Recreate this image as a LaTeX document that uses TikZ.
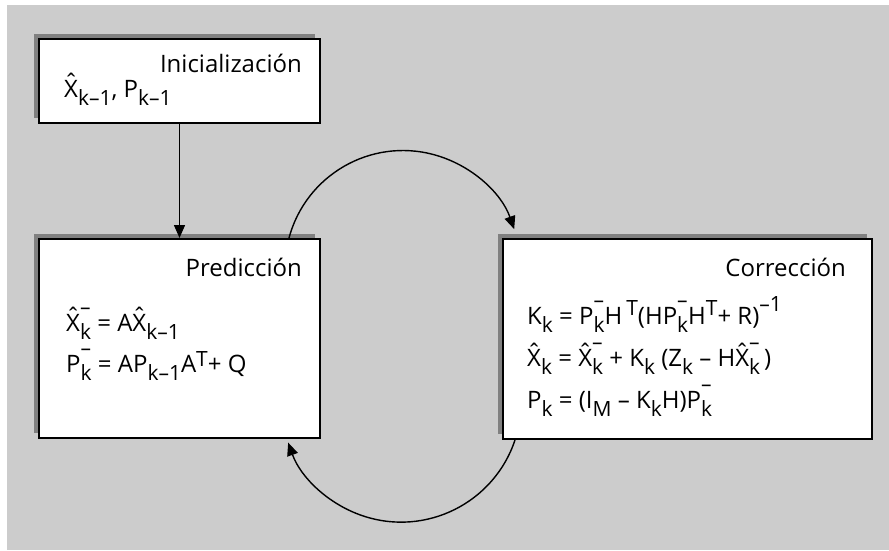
\documentclass[tikz,border=0pt]{standalone}
\usepackage{fontspec}
\setmainfont{Open Sans}
\usetikzlibrary{arrows.meta}
\definecolor{bgc}{HTML}{CCCCCC}
\definecolor{shc}{HTML}{808080}
\newcommand\subsz{\fontsize{21}{21}\selectfont}
\newcommand\sbx[1]{\raisebox{-8pt}{\subsz #1}}
\newcommand\spx[2][6pt]{\raisebox{#1}{\subsz #2}}
\newcommand\msb[1]{\makebox[0pt][l]{\raisebox{17pt}{\subsz –}}\raisebox{-8pt}{\subsz #1}}
\newcommand\hX{\ooalign{X\cr\hidewidth\raisebox{0.22em}{\char"02C6}\hidewidth\cr}}
\tikzset{
  box/.style={draw=black, line width=2pt, fill=white, inner sep=0pt},
  txt/.style={inner sep=0pt, font=\fontsize{24}{30}\selectfont},
  arr/.style={line width=1.4pt, -{Triangle[length=13pt,width=11pt]}},
}
\begin{document}
\begin{tikzpicture}[x=1pt,y=-1pt]
\useasboundingbox (0,0) rectangle (889,551);
\fill[bgc] (7,5) rectangle (889,550);
% shadows
\fill[shc] (34,34.5) rectangle (315,118);
\fill[shc] (34,234) rectangle (315,433);
\fill[shc] (498,234) rectangle (867,434);
% boxes
\node[box, minimum width=281pt, minimum height=83.5pt] (init) at (179.5,81.25) {};
\node[box, minimum width=281pt, minimum height=199pt] (pred) at (179.5,338.5) {};
\node[box, minimum width=369pt, minimum height=200pt] (corr) at (687.5,339) {};
% texts
\node[txt, anchor=base east] (tinit) at (302,72.5) {Inicialización};
\node[txt, anchor=base west] (einit) at (64,97) {\hX\sbx{k–1}, P\sbx{k–1}};
\node[txt, anchor=base east] (tpred) at (302,276) {Predicción};
\node[txt, anchor=base west] (ep1) at (66,331) {\hX\msb{k} = A\hX\sbx{k–1}};
\node[txt, anchor=base west] (ep2) at (66,372.5) {P\msb{k} = AP\sbx{k–1}A\spx{T}+ Q};
\node[txt, anchor=base east] (tcorr) at (846,276.5) {Corrección};
\node[txt, anchor=base west] (ec1) at (527,324) {K\sbx{k} = P\msb{k}H\,\spx[9pt]{T}(HP\msb{k}H\spx[9pt]{T}+ R)\spx[13pt]{–1}};
\node[txt, anchor=base west] (ec2) at (527,366.5) {\hX\sbx{k} = \hX\msb{k} + K\sbx{k} (Z\sbx{k} – H\hX\msb{k}\,)};
\node[txt, anchor=base west] (ec3) at (527,408) {P\sbx{k} = (I\sbx{M} – K\sbx{k}H)P\msb{k}};
% connectors
\draw[arr] (init.south) -- (pred.north);
\draw[arr] ([xshift=251pt]pred.north west) arc[start angle=-165, end angle=-19.5, radius=118];
\draw[arr] ([xshift=13pt]corr.south west) arc[start angle=18.4, end angle=160.3, radius=120];
\end{tikzpicture}
\end{document}
